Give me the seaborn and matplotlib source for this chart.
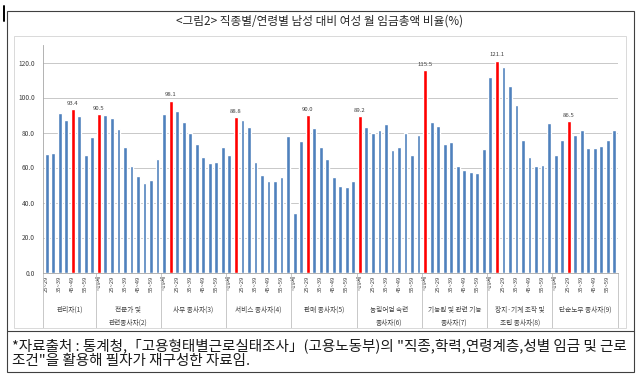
import numpy as np
import pandas as pd
import seaborn as sns
import matplotlib.pyplot as plt
from matplotlib.lines import Line2D
from matplotlib.patches import Rectangle

sns.set_theme(style='white')
plt.rcParams['font.family'] = ['Noto Sans CJK KR', 'DejaVu Sans']

# 연령계층 (눈금은 한 칸 건너 표시)
ages = ['~19세', '20~24', '25~29', '30~34', '35~39',
        '40~44', '45~49', '50~54', '55~59', '60세~']

groups = ['관리자(1)', '전문가 및\n관련종사자(2)', '사무 종사자(3)', '서비스 종사자(4)',
          '판매 종사자(5)', '농림어업 숙련\n종사자(6)', '기능원 및 관련 기능\n종사자(7)',
          '장치·기계 조작 및\n조립 종사자(8)', '단순노무 종사자(9)']

g1 = [68.0, 68.4, 91.0, 87.2, 93.4, 89.3, 67.2, 77.7]
g2 = [90.5, 90.2, 88.2, 81.9, 71.8, 61.1, 55.2, 51.0, 53.1, 65.0]
g3 = [90.7, 98.1, 92.2, 86.1, 80.0, 73.7, 65.9, 62.7, 63.2, 72.0]
g4 = [66.9, 88.8, 87.4, 82.9, 63.4, 55.6, 52.4, 52.4, 54.7, 77.9]
g5 = [34.1, 75.2, 90.0, 82.7, 72.0, 64.8, 54.7, 49.3, 49.1, 52.4]
g6 = [89.2, 83.2, 79.6, 81.3, 85.0, 70.1, 71.6, 79.6, 66.9, 78.7]
g7 = [115.5, 86.1, 83.6, 73.5, 74.7, 60.8, 58.5, 57.7, 56.8, 70.7]
g8 = [111.6, 121.1, 117.7, 106.7, 96.0, 76.0, 66.1, 60.8, 61.7, 85.3]
g9 = [67.2, 75.8, 86.5, 78.7, 81.3, 71.0, 71.0, 72.4, 75.6, 81.3]
values = [g1, g2, g3, g4, g5, g6, g7, g8, g9]

title = '<그림2> 직종별/연령별 남성 대비 여성 월 임금총액 비율(%)'
note1 = '*자료출처 : 통계청,「고용형태별근로실태조사」(고용노동부)의 "직종,학력,연령계층,성별 임금 및 근로'
note2 = '조건"을 활용해 필자가 재구성한 자료임.'

rows = []
for g, vals in zip(groups, values):
    top = int(np.argmax(vals))
    for j, (a, v) in enumerate(zip(ages[-len(vals):], vals)):
        rows.append(dict(group=g, age=a, value=v, top=(j == top), j=j))
df = pd.DataFrame(rows)
df['pos'] = np.arange(len(df))

W, H = 640, 379
fx = lambda px: px / W
fy = lambda py: 1 - py / H

fig = plt.figure(figsize=(6.4, 3.79), dpi=100)
ax_l, ax_r, ax_t, ax_b = 43.4, 617.6, 45.0, 272.5
ax = fig.add_axes([fx(ax_l), fy(ax_b), fx(ax_r) - fx(ax_l), fy(ax_t) - fy(ax_b)])

sns.barplot(data=df, x='pos', y='value', hue='top',
            palette={False: '#4F81BD', True: '#FF0000'},
            dodge=False, width=0.58, saturation=1, legend=False, ax=ax)

for r in df[df.top].itertuples():
    ax.annotate(f'{r.value:.1f}', (r.pos, r.value), xytext=(0, 2.5),
                textcoords='offset points', ha='center', va='bottom',
                fontsize=4.3, color='#404040')

ticks = df[df.j % 2 == 0]
ax.set_xticks(ticks.pos)
ax.set_xticklabels(ticks.age, rotation=90, fontsize=4.2, color='#404040')
ax.set_xlim(-0.5, len(df) - 0.5)
ax.set_ylim(0, 130)
ax.set_yticks(range(0, 121, 20))
ax.set_yticklabels([f'{v:.1f}' for v in range(0, 121, 20)], fontsize=4.8, color='#404040')
ax.tick_params(axis='x', length=0, pad=2)
ax.tick_params(axis='y', length=0, pad=6)
ax.set_xlabel('')
ax.set_ylabel('')
ax.yaxis.grid(True, color='#bfbfbf', lw=0.6)
ax.set_axisbelow(True)
for s in ['top', 'right']:
    ax.spines[s].set_visible(False)
for s in ['left', 'bottom']:
    ax.spines[s].set_color('#a6a6a6')
    ax.spines[s].set_linewidth(0.6)

# 직종 구분선과 직종 이름
span = ax_b - ax_t
to_ay = lambda py: (ax_b - py) / span
tr = ax.get_xaxis_transform()
bounds = np.concatenate([[0], np.cumsum([len(v) for v in values])]) - 0.5
for b in bounds:
    ax.plot([b, b], [0, to_ay(328)], transform=tr, clip_on=False,
            color='#bfbfbf', lw=0.6)
for g, (a, b) in zip(groups, zip(bounds[:-1], bounds[1:])):
    for k, line in enumerate(g.split('\n')):
        ax.text((a + b) / 2, to_ay(310 + 13 * k), line, transform=tr,
                ha='center', va='center', fontsize=4.8, color='#404040')

# 문서 틀
fig.add_artist(Rectangle((fx(14), fy(328)), fx(626) - fx(14), fy(36) - fy(328),
                         transform=fig.transFigure, fill=False, ec='#d9d9d9', lw=0.7))
fig.add_artist(Rectangle((fx(7), fy(372)), fx(634) - fx(7), fy(11) - fy(372),
                         transform=fig.transFigure, fill=False, ec='#404040', lw=0.8))
fig.add_artist(Line2D([fx(7), fx(634)], [fy(331), fy(331)],
                      transform=fig.transFigure, color='#404040', lw=0.8))
fig.add_artist(Line2D([fx(3.5), fx(3.5)], [fy(6), fy(21)],
                      transform=fig.transFigure, color='black', lw=1.4))

fig.text(fx(320), fy(21), title, ha='center', va='center', fontsize=8.4, color='#262626')
fig.text(fx(12), fy(346), note1, ha='left', va='center', fontsize=10.5, color='#1a1a1a')
fig.text(fx(12), fy(361), note2, ha='left', va='center', fontsize=10.5, color='#1a1a1a')

fig.savefig('out.png', dpi=100)
